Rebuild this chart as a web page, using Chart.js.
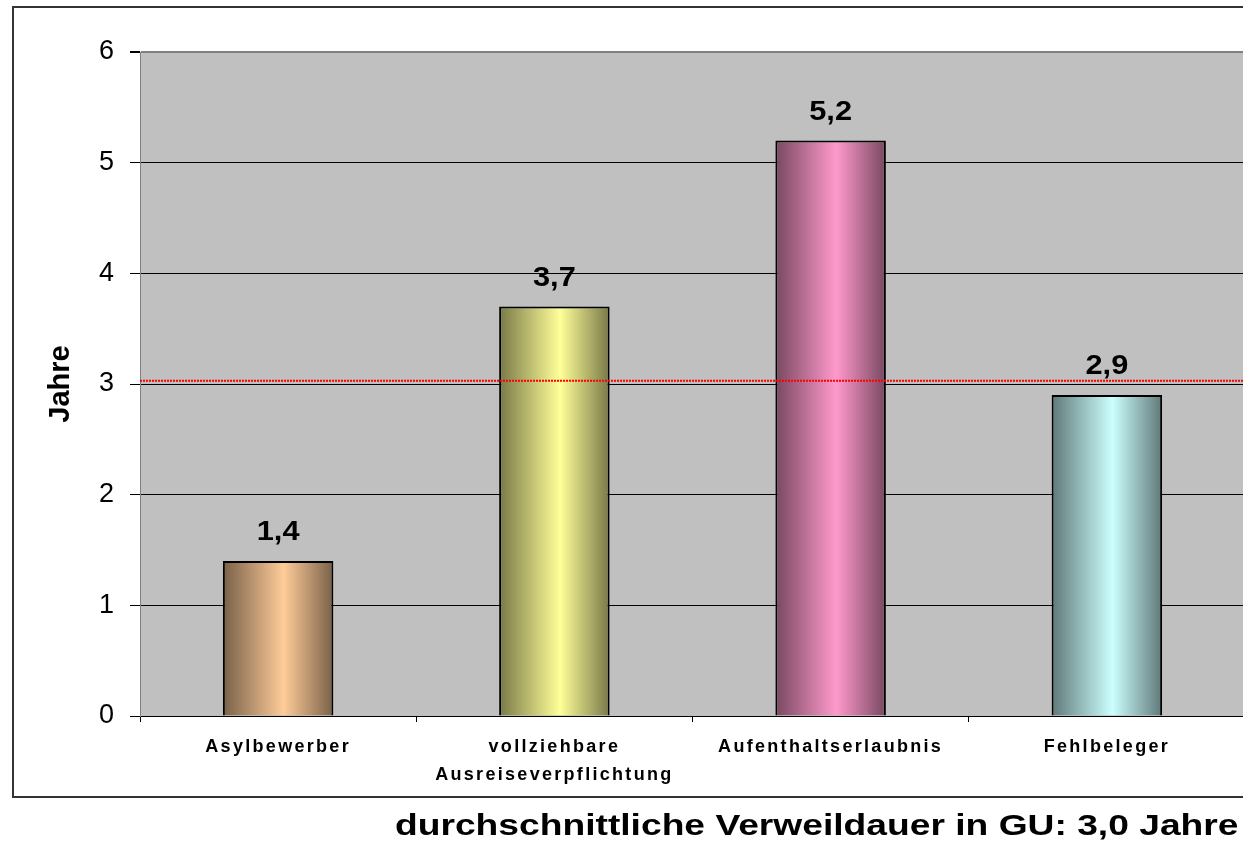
<!DOCTYPE html>
<html>
<head>
<meta charset="utf-8">
<script src="https://cdn.jsdelivr.net/npm/chart.js@4/dist/chart.umd.min.js"></script>
<style>
  html, body { margin: 0; padding: 0; background: #fff; overflow: hidden; width: 1243px; height: 856px; }
  #wrap { position: relative; width: 1243px; height: 856px; overflow: hidden; }
  #c { position: absolute; left: 0; top: 0; }
  #subtitle { position: absolute; left: 395px; top: 810px; font: bold 30px "Liberation Sans", Arial, sans-serif;
    line-height: 30px; white-space: nowrap; color: #000; transform: scaleX(1.24); transform-origin: left top; }
</style>
</head>
<body>
<div id="wrap">
  <canvas id="c" width="1250" height="856"></canvas>
  <div id="subtitle">durchschnittliche Verweildauer in GU: 3,0 Jahre</div>
</div>
<script>
const categories = ['Asylbewerber', ['vollziehbare', 'Ausreiseverpflichtung'], 'Aufenthaltserlaubnis', 'Fehlbeleger'];
const values = [1.4, 3.7, 5.2, 2.9];
const valueLabels = ['1,4', '3,7', '5,2', '2,9'];
const averageValue = [3.03];
const yAxisTitle = 'Jahre';
const barColors = ['#FFCC99', '#FFFF99', '#FF99CC', '#CCFFFF'];

const BAR_FRACTION = 0.4;

function shade(hex, f) {
  const n = parseInt(hex.slice(1), 16);
  const r = Math.round(((n >> 16) & 255) * f), g = Math.round(((n >> 8) & 255) * f), b = Math.round((n & 255) * f);
  return `rgb(${r},${g},${b})`;
}

function barGradient(ctx) {
  const chart = ctx.chart;
  const base = barColors[ctx.dataIndex];
  if (!chart.chartArea || !chart.scales.x) return base;
  const xs = chart.scales.x;
  const c = xs.getPixelForValue(ctx.dataIndex);
  const w = (xs.width / categories.length) * BAR_FRACTION;
  const g = chart.ctx.createLinearGradient(c - w / 2, 0, c + w / 2, 0);
  g.addColorStop(0, shade(base, 0.47));
  g.addColorStop(0.55, base);
  g.addColorStop(1, shade(base, 0.47));
  return g;
}

const decorPlugin = {
  id: 'decor',
  beforeDraw(chart) {
    const { ctx, chartArea: a } = chart;
    ctx.save();
    ctx.letterSpacing = '0px';
    ctx.fillStyle = '#fff';
    ctx.fillRect(0, 0, chart.width, chart.height);
    ctx.strokeStyle = '#333';
    ctx.lineWidth = 2;
    ctx.beginPath();
    ctx.moveTo(chart.width + 5, 7);
    ctx.lineTo(13, 7);
    ctx.lineTo(13, 797);
    ctx.lineTo(chart.width + 5, 797);
    ctx.stroke();
    ctx.fillStyle = '#C0C0C0';
    ctx.fillRect(a.left, a.top, a.right - a.left, a.bottom - a.top);
    ctx.restore();
  },
  afterDatasetsDraw(chart) {
    const { ctx, chartArea: a } = chart;
    const ys = chart.scales.y, xs = chart.scales.x;
    ctx.save();
    const yAvg = ys.getPixelForValue(averageValue[0]);
    ctx.strokeStyle = '#FF0000';
    ctx.lineWidth = 2;
    ctx.setLineDash([2, 1]);
    ctx.beginPath();
    ctx.moveTo(a.left, yAvg);
    ctx.lineTo(a.right, yAvg);
    ctx.stroke();
    ctx.restore();
    ctx.save();
    ctx.font = 'bold 28px "Liberation Sans", Arial, sans-serif';
    ctx.fillStyle = '#000';
    ctx.textAlign = 'center';
    ctx.textBaseline = 'alphabetic';
    values.forEach((v, i) => {
      const x = xs.getPixelForValue(i);
      const y = ys.getPixelForValue(v) - 21;
      ctx.save();
      ctx.translate(x, y);
      ctx.scale(1.1, 1);
      ctx.fillText(valueLabels[i], 0, 0);
      ctx.restore();
    });
    ctx.restore();
    ctx.letterSpacing = '2.3px';
  },
  afterDraw(chart) {
    chart.ctx.letterSpacing = '0px';
  }
};

new Chart(document.getElementById('c'), {
  type: 'bar',
  data: {
    labels: categories,
    datasets: [{
      data: values,
      backgroundColor: barGradient,
      borderColor: '#000',
      borderWidth: 2,
      borderSkipped: 'bottom',
      categoryPercentage: 0.8,
      barPercentage: 0.5
    }]
  },
  options: {
    responsive: false,
    animation: false,
    layout: { padding: { top: 52, right: 5, bottom: 59, left: 0 } },
    plugins: { legend: { display: false }, tooltip: { enabled: false }, title: { display: false } },
    scales: {
      x: {
        grid: { display: true, drawOnChartArea: false, drawTicks: true, tickLength: 6, tickColor: '#000', offset: true },
        border: { display: true, color: '#000', width: 1 },
        ticks: {
          z: 1,
          autoSkip: false, maxRotation: 0, minRotation: 0,
          padding: 11,
          color: '#000',
          font: { family: '"Liberation Sans", Arial, sans-serif', size: 18, weight: 'bold', lineHeight: 1.556 }
        },
        afterFit(s) { s.height = 81; }
      },
      y: {
        min: 0, max: 6,
        grid: {
          color: (c) => (c.tick && c.tick.value === 6 ? '#808080' : '#000'),
          lineWidth: (c) => (c.tick && c.tick.value === 6 ? 2 : 1),
          tickLength: 10, tickColor: '#000', drawTicks: true
        },
        border: { display: true, color: '#808080', width: 1 },
        ticks: {
          stepSize: 1, padding: 16, color: '#000',
          font: { family: '"Liberation Sans", Arial, sans-serif', size: 27 }
        },
        title: {
          display: true, text: yAxisTitle, color: '#000',
          font: { family: '"Liberation Sans", Arial, sans-serif', size: 29, weight: 'bold' },
          padding: { top: 44, bottom: 0 }
        },
        afterFit(s) { s.width = 140; }
      }
    }
  },
  plugins: [decorPlugin]
});
</script>
</body>
</html>
